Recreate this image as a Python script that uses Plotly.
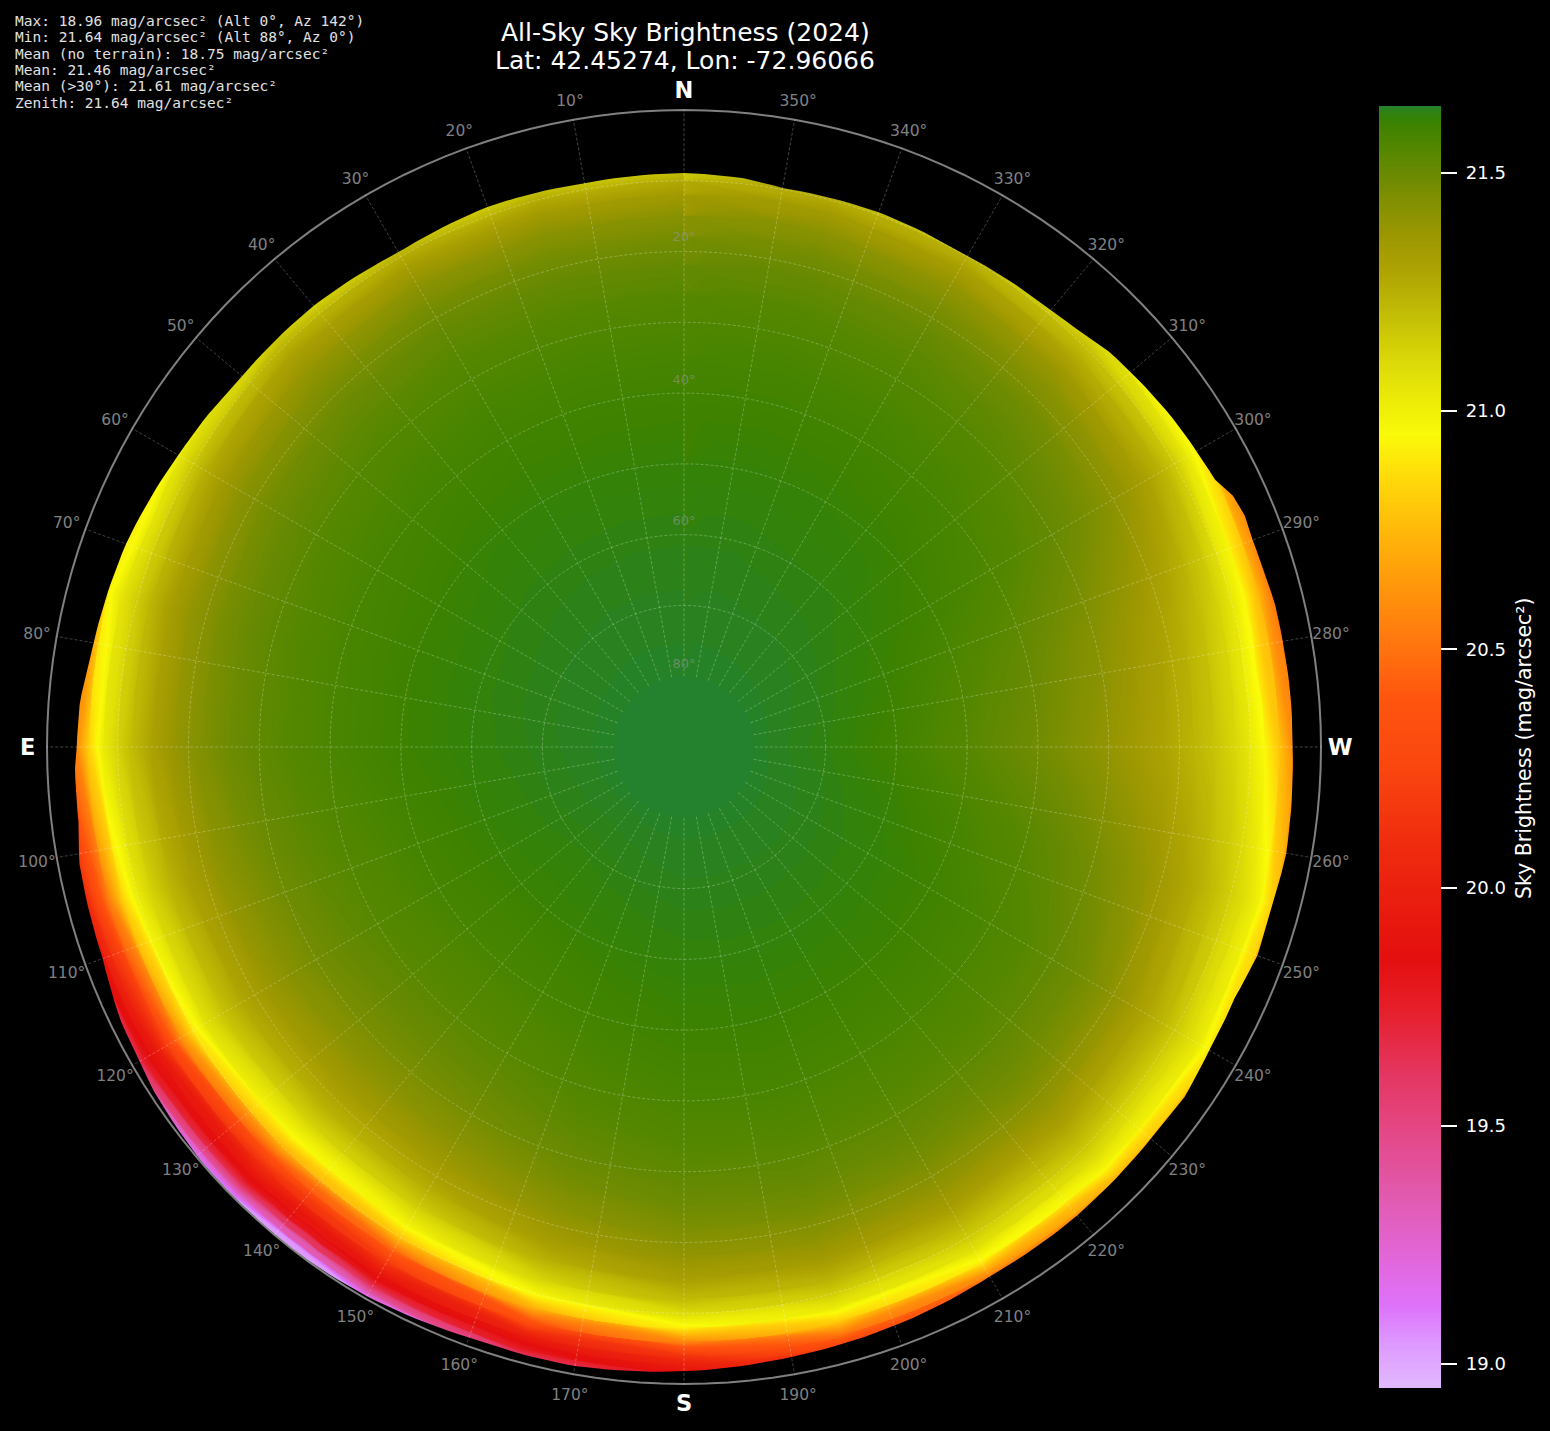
import math
import plotly.graph_objects as go

W, H = 1550, 1431
CX, CY, RIM = 684.0, 747.0, 637.0
PX = RIM / 90.0

# --- data ---
alt_rows = [0, 1, 2, 3, 4, 6, 8, 10, 12, 15, 18, 22, 26, 30, 35, 40, 50, 60, 70, 80, 85]
az_cols = [0, 15, 30, 45, 60, 75, 90, 105, 120, 135, 150, 165, 180, 195, 210, 225, 240, 255, 270, 285, 300, 315, 330, 345, 360]
sky_0 = [20.30, 20.42, 20.54, 20.65, 20.75, 20.96, 21.156, 21.274, 21.35, 21.424, 21.472, 21.514, 21.543, 21.563, 21.581, 21.595, 21.614, 21.626, 21.634, 21.64, 21.64]
sky_15 = [20.30, 20.42, 20.54, 20.65, 20.75, 20.96, 21.147, 21.267, 21.343, 21.42, 21.469, 21.512, 21.541, 21.562, 21.58, 21.594, 21.613, 21.626, 21.634, 21.64, 21.64]
sky_30 = [20.28, 20.40, 20.52, 20.63, 20.74, 20.95, 21.139, 21.261, 21.338, 21.416, 21.466, 21.51, 21.539, 21.56, 21.579, 21.593, 21.613, 21.625, 21.634, 21.64, 21.64]
sky_45 = [20.22, 20.34, 20.46, 20.58, 20.69, 20.93, 21.13, 21.24, 21.315, 21.39, 21.445, 21.494, 21.527, 21.551, 21.572, 21.588, 21.61, 21.624, 21.633, 21.64, 21.64]
sky_60 = [20.12, 20.24, 20.37, 20.50, 20.62, 20.87, 21.06, 21.17, 21.26, 21.352, 21.416, 21.472, 21.51, 21.537, 21.562, 21.58, 21.603, 21.621, 21.632, 21.64, 21.64]
sky_75 = [20.05, 20.20, 20.35, 20.50, 20.65, 20.94, 21.07, 21.15, 21.23, 21.329, 21.398, 21.459, 21.50, 21.529, 21.556, 21.575, 21.602, 21.62, 21.631, 21.64, 21.64]
sky_90 = [19.90, 20.08, 20.25, 20.41, 20.56, 20.84, 21.03, 21.13, 21.21, 21.31, 21.383, 21.448, 21.491, 21.523, 21.55, 21.571, 21.60, 21.618, 21.63, 21.64, 21.64]
sky_105 = [19.55, 19.75, 19.93, 20.09, 20.24, 20.55, 20.85, 21.03, 21.13, 21.24, 21.321, 21.401, 21.453, 21.494, 21.529, 21.553, 21.59, 21.613, 21.628, 21.64, 21.64]
sky_120 = [19.35, 19.60, 19.78, 19.88, 19.94, 20.27, 20.62, 20.90, 21.07, 21.19, 21.28, 21.366, 21.428, 21.473, 21.512, 21.542, 21.583, 21.609, 21.626, 21.64, 21.64]
sky_135 = [19.02, 19.32, 19.60, 19.80, 19.90, 20.10, 20.40, 20.74, 20.948, 21.123, 21.239, 21.34, 21.407, 21.456, 21.50, 21.533, 21.577, 21.606, 21.623, 21.64, 21.64]
sky_150 = [19.05, 19.35, 19.62, 19.82, 19.92, 20.18, 20.48, 20.80, 20.988, 21.153, 21.262, 21.357, 21.421, 21.467, 21.508, 21.539, 21.581, 21.608, 21.626, 21.64, 21.64]
sky_165 = [19.30, 19.58, 19.78, 19.88, 20.00, 20.38, 20.73, 20.978, 21.116, 21.25, 21.336, 21.412, 21.464, 21.501, 21.534, 21.559, 21.593, 21.614, 21.629, 21.64, 21.64]
sky_180 = [19.60, 19.78, 19.92, 20.02, 20.15, 20.58, 20.93, 21.10, 21.212, 21.322, 21.392, 21.454, 21.496, 21.527, 21.553, 21.574, 21.601, 21.619, 21.631, 21.64, 21.64]
sky_195 = [19.85, 20.02, 20.18, 20.34, 20.50, 20.82, 21.03, 21.15, 21.24, 21.344, 21.41, 21.468, 21.507, 21.533, 21.56, 21.578, 21.604, 21.62, 21.631, 21.64, 21.64]
sky_210 = [20.00, 20.15, 20.30, 20.45, 20.60, 20.92, 21.07, 21.16, 21.23, 21.329, 21.398, 21.459, 21.50, 21.529, 21.556, 21.575, 21.602, 21.62, 21.631, 21.64, 21.64]
sky_225 = [20.20, 20.35, 20.50, 20.63, 20.76, 20.98, 21.09, 21.17, 21.233, 21.323, 21.393, 21.457, 21.498, 21.528, 21.553, 21.574, 21.602, 21.619, 21.631, 21.64, 21.64]
sky_240 = [20.33, 20.48, 20.63, 20.76, 20.88, 21.03, 21.10, 21.17, 21.23, 21.30, 21.37, 21.44, 21.486, 21.518, 21.547, 21.569, 21.599, 21.617, 21.63, 21.64, 21.64]
sky_255 = [20.25, 20.40, 20.55, 20.69, 20.82, 21.00, 21.08, 21.14, 21.19, 21.26, 21.313, 21.38, 21.43, 21.47, 21.51, 21.54, 21.58, 21.61, 21.628, 21.64, 21.64]
sky_270 = [20.10, 20.22, 20.35, 20.48, 20.60, 20.80, 20.95, 21.04, 21.11, 21.18, 21.233, 21.293, 21.343, 21.39, 21.44, 21.48, 21.543, 21.593, 21.623, 21.64, 21.64]
sky_285 = [20.00, 20.12, 20.25, 20.38, 20.50, 20.74, 20.94, 21.05, 21.13, 21.21, 21.27, 21.333, 21.383, 21.43, 21.47, 21.51, 21.563, 21.603, 21.627, 21.64, 21.64]
sky_300 = [20.25, 20.37, 20.48, 20.58, 20.68, 20.90, 21.04, 21.16, 21.24, 21.32, 21.383, 21.44, 21.48, 21.51, 21.54, 21.563, 21.593, 21.613, 21.63, 21.64, 21.64]
sky_315 = [20.40, 20.52, 20.63, 20.74, 20.84, 21.00, 21.10, 21.20, 21.27, 21.367, 21.428, 21.481, 21.517, 21.543, 21.566, 21.583, 21.607, 21.622, 21.632, 21.64, 21.64]
sky_330 = [20.33, 20.45, 20.56, 20.67, 20.77, 20.97, 21.113, 21.241, 21.324, 21.403, 21.457, 21.503, 21.534, 21.556, 21.576, 21.591, 21.612, 21.623, 21.633, 21.64, 21.64]
sky_345 = [20.30, 20.42, 20.54, 20.65, 20.75, 20.96, 21.151, 21.27, 21.347, 21.422, 21.47, 21.513, 21.542, 21.562, 21.581, 21.595, 21.614, 21.626, 21.634, 21.64, 21.64]
sky_columns = [sky_0, sky_15, sky_30, sky_45, sky_60, sky_75, sky_90, sky_105, sky_120, sky_135, sky_150, sky_165,
               sky_180, sky_195, sky_210, sky_225, sky_240, sky_255, sky_270, sky_285, sky_300, sky_315, sky_330, sky_345, sky_0]

horizon_az = [0, 10, 20, 30, 40, 50, 60, 70, 80, 86, 90, 92, 97, 101, 110, 116, 120, 123, 131, 142, 150, 160, 170, 180,
              190, 200, 210, 220, 230, 235, 240, 245.5, 250, 254, 260, 265, 270, 275, 280, 283.5, 287, 290, 292.4, 294.6,
              296.7, 300, 304, 310, 313, 316, 320, 330, 340, 350, 354, 360]
horizon_alt = [8.9, 9.1, 8.8, 9.3, 8.6, 8.5, 7.5, 6.1, 5.3, 4.4, 4.2, 3.9, 3.8, 3.0, 2.6, 1.5, 1.2, 0.7, 0.1, 0.0, 0.4, 1.2, 1.2, 1.8,
               2.5, 3.0, 3.6, 3.6, 3.9, 3.7, 4.3, 4.5, 3.8, 4.0, 3.6, 3.8, 4.0, 4.0, 4.1, 4.1, 4.4, 4.5, 4.3, 4.7,
               6.0, 6.4, 6.8, 7.6, 8.0, 8.9, 9.4, 9.9, 9.6, 9.8, 9.2, 8.9]

az_ticks = [a for a in range(0, 360, 10)]
cardinals = ["N", "E", "S", "W"]
cardinal_az = [0, 90, 180, 270]
alt_ticks = [20, 40, 60, 80]
colorbar_ticks = [19.0, 19.5, 20.0, 20.5, 21.0, 21.5]
stats_lines = [
    "Max: 18.96 mag/arcsec² (Alt 0°, Az 142°)",
    "Min: 21.64 mag/arcsec² (Alt 88°, Az 0°)",
    "Mean (no terrain): 18.75 mag/arcsec²",
    "Mean: 21.46 mag/arcsec²",
    "Mean (>30°): 21.61 mag/arcsec²",
    "Zenith: 21.64 mag/arcsec²",
]
Z_MIN, Z_MAX = 18.95, 21.64
color_stops = [
    (18.95, (225, 185, 255)), (19.05, (222, 150, 255)), (19.12, (222, 115, 250)), (19.20, (225, 105, 225)),
    (19.35, (225, 90, 175)), (19.50, (228, 70, 130)), (19.60, (228, 55, 100)), (19.75, (230, 30, 40)),
    (19.85, (228, 15, 15)), (20.10, (240, 45, 15)), (20.25, (250, 70, 15)), (20.40, (255, 85, 15)),
    (20.50, (255, 115, 15)), (20.70, (255, 170, 10)), (20.85, (255, 215, 10)), (20.95, (250, 250, 10)),
    (21.00, (240, 240, 8)), (21.10, (220, 218, 8)), (21.20, (195, 190, 6)), (21.30, (172, 162, 3)),
    (21.36, (158, 152, 2)), (21.44, (130, 144, 2)), (21.50, (105, 138, 2)), (21.56, (80, 134, 0)), (21.60, (62, 130, 0)),
    (21.61, (56, 130, 5)), (21.62, (50, 130, 12)), (21.63, (44, 130, 25)), (21.64, (38, 130, 38)),
]
colorscale = [[(z - Z_MIN) / (Z_MAX - Z_MIN), f"rgb{c}"] for z, c in color_stops]
CAP_ALT = 80
FONT = "DejaVu Sans"
GRAY = "rgb(128,128,128)"
GRID = "rgba(255,255,255,0.26)"
DASH = "3px,2px"
LABEL_NUDGE = 0.3


def to_xy(az, alt):
    """sky position to plane position (east on the left, degrees from zenith as radius)."""
    r = 90.0 - alt
    t = math.radians(az)
    return -r * math.sin(t), r * math.cos(t)


def arc(az0, alt0, az1, alt1):
    """a span between two horizon readings, drawn as a polar segment rather than a chord."""
    n = max(1, int(abs(az1 - az0)))
    return [to_xy(az0 + (az1 - az0) * i / n, alt0 + (alt1 - alt0) * i / n) for i in range(n)]


grid = [[to_xy(a, b) for a in az_cols] for b in alt_rows]
carpet_x = [[p[0] for p in row] for row in grid]
carpet_y = [[p[1] for p in row] for row in grid]
z_rows = [[col[i] for col in sky_columns] for i in range(len(alt_rows))]

no_axis = dict(showgrid=False, showline=False, showticklabels="none", startline=False, endline=False,
               minorgridcount=0, smoothing=1, tickmode="array", tickvals=[], title=dict(text=""))

fig = go.Figure()
fig.add_trace(go.Carpet(carpet="sky", a=az_cols, b=alt_rows, x=carpet_x, y=carpet_y,
                        aaxis=no_axis, baxis={**no_axis, "smoothing": 0}, xaxis="x", yaxis="y"))
fig.add_trace(go.Contourcarpet(
    carpet="sky", a=az_cols, b=alt_rows, z=z_rows, zmin=Z_MIN, zmax=Z_MAX, colorscale=colorscale,
    autocontour=False, contours=dict(start=Z_MIN + 0.0022, end=Z_MAX - 0.0028, size=0.005, coloring="fill", showlines=False),
    line=dict(width=0, smoothing=0),
    colorbar=dict(x=1379 / W, xanchor="left", xpad=0, y=1 - 106 / H, yanchor="top", ypad=0,
                  len=1282 / H, lenmode="fraction", thickness=62, thicknessmode="pixels", outlinewidth=0,
                  tickmode="array", tickvals=colorbar_ticks, ticktext=["\u00a0" + f"{v:.1f}" for v in colorbar_ticks],
                  ticks="outside", ticklen=16, tickwidth=1.5, tickcolor="white",
                  tickfont=dict(family=FONT, size=18, color="white")),
))

# zenith cap above the last altitude ring
cap = [to_xy(a, CAP_ALT) for a in range(0, 361, 5)]
fig.add_trace(go.Scatter(x=[p[0] for p in cap], y=[p[1] for p in cap], mode="lines", fill="toself",
                         fillcolor="rgb(36,130,46)", line=dict(width=0), hoverinfo="skip", showlegend=False))

# terrain mask between the horizon and past the rim
inner = []
for k in range(len(horizon_az) - 1):
    inner += arc(horizon_az[k], horizon_alt[k], horizon_az[k + 1], horizon_alt[k + 1])
inner.append(to_xy(horizon_az[-1], horizon_alt[-1]))
outer = [to_xy(a, -0.9) for a in range(360, -1, -2)]
ring = inner + outer + [inner[0]]
fig.add_trace(go.Scatter(x=[p[0] for p in ring], y=[p[1] for p in ring], mode="lines", fill="toself",
                         fillcolor="black", line=dict(width=0), hoverinfo="skip", showlegend=False))

# rim circle
rim = [to_xy(a, 0) for a in range(0, 361, 2)]
fig.add_trace(go.Scatter(x=[p[0] for p in rim], y=[p[1] for p in rim], mode="lines",
                         line=dict(color=GRAY, width=2), hoverinfo="skip", showlegend=False, cliponaxis=False))

# azimuth labels
label_alt = -2.82
labelled = [a for a in az_ticks if a not in cardinal_az]
pts = [to_xy(a, label_alt) for a in labelled]
fig.add_trace(go.Scatter(x=[p[0] for p in pts], y=[p[1] - LABEL_NUDGE for p in pts], mode="text", text=[f"{a}°" for a in labelled],
                         textposition="middle center", textfont=dict(family=FONT, size=15.5, color=GRAY),
                         hoverinfo="skip", showlegend=False, cliponaxis=False))
pts = [to_xy(a, -2.72) for a in cardinal_az]
fig.add_trace(go.Scatter(x=[p[0] for p in pts], y=[p[1] - LABEL_NUDGE for p in pts], mode="text", text=cardinals,
                         textposition="middle center", textfont=dict(family=FONT, size=22.5, color="white", weight="bold"),
                         hoverinfo="skip", showlegend=False, cliponaxis=False))

# altitude labels over the grid
alt_label_r = [71.1, 50.85, 30.85, 10.7]
fig.add_trace(go.Scatterpolar(r=alt_label_r, theta=[0] * len(alt_ticks),
                              text=[f"{a}°" for a in alt_ticks], mode="text", textposition="top center",
                              textfont=dict(family=FONT, size=13, color="rgba(150,150,150,0.6)"),
                              subplot="polar", hoverinfo="skip", showlegend=False))

annotations = [
    dict(text="All-Sky Sky Brightness (2024)", x=685 / W, y=1 - 32 / H, xref="paper", yref="paper", showarrow=False,
         xanchor="center", yanchor="middle", font=dict(family=FONT, size=25, color="white")),
    dict(text="Lat: 42.45274, Lon: -72.96066", x=685 / W, y=1 - 60.5 / H, xref="paper", yref="paper", showarrow=False,
         xanchor="center", yanchor="middle", font=dict(family=FONT, size=25, color="white")),
    dict(text="Sky Brightness (mag/arcsec²)", x=1524 / W, y=1 - 748 / H, xref="paper", yref="paper", showarrow=False,
         textangle=-90, xanchor="center", yanchor="middle", font=dict(family=FONT, size=20.5, color="white")),
]
for i, line in enumerate(stats_lines):
    annotations.append(dict(text=line, x=13 / W, y=1 - (21 + i * 16.3) / H, xref="paper", yref="paper", showarrow=False,
                            xanchor="left", yanchor="middle", align="left",
                            font=dict(family="DejaVu Sans Mono", size=14.5, color="rgb(225,225,225)")))

fig.update_layout(
    width=W, height=H, margin=dict(l=0, r=0, t=0, b=0), autosize=False,
    paper_bgcolor="black", plot_bgcolor="black", showlegend=False, annotations=annotations,
    xaxis=dict(visible=False, domain=[0, 1], range=[-CX / PX, (W - CX) / PX], fixedrange=True),
    yaxis=dict(visible=False, domain=[0, 1], range=[(CY - H) / PX, CY / PX], fixedrange=True),
    polar=dict(
        domain=dict(x=[(CX - RIM) / W, (CX + RIM) / W], y=[1 - (CY + RIM) / H, 1 - (CY - RIM) / H]),
        bgcolor="rgba(0,0,0,0)", hole=10 / 90,
        radialaxis=dict(range=[10, 90], tickmode="array", tickvals=list(range(10, 90, 10)), showticklabels=False,
                        ticks="", showline=False, angle=90, gridcolor=GRID, griddash=DASH, gridwidth=0.8),
        angularaxis=dict(rotation=90, direction="counterclockwise", tickmode="array", tickvals=az_ticks,
                         showticklabels=False, ticks="", showline=False,
                         gridcolor=GRID, griddash=DASH, gridwidth=0.8),
    ),
)
fig.write_html("out.html", config={"displayModeBar": False},
               post_script="document.body.style.margin='0';document.body.style.background='black';")
